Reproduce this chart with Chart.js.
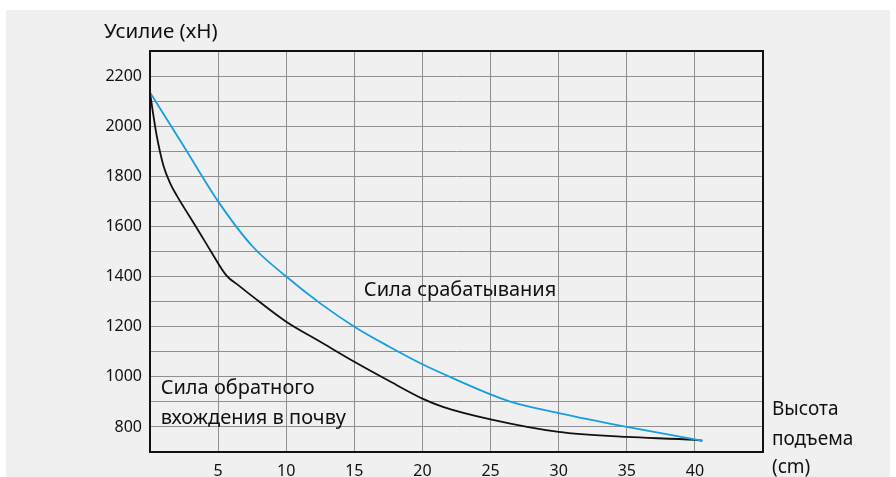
<!DOCTYPE html>
<html>
<head>
<meta charset="utf-8">
<script src="https://cdn.jsdelivr.net/npm/chart.js@4/dist/chart.umd.min.js"></script>
<style>
  html, body { margin: 0; padding: 0; background: #ffffff; }
  canvas { display: block; }
</style>
</head>
<body>
<canvas id="c" width="896" height="477"></canvas>
<script>
// ---- data ----
const yAxisTitle = "Усилие (хН)";
const xAxisTitleLines = ["Высота", "подъема", "(cm)"];
const triggerLabel = "Сила срабатывания";
const returnLabelLines = ["Сила обратного", "вхождения в почву"];

const triggerX = [0, 2.5, 5, 7.5, 10, 12.5, 15, 17.5, 20, 22.5, 25, 26.5, 30, 35, 40, 40.55];
const triggerY = [2135, 1918, 1700, 1522, 1400, 1293, 1200, 1122, 1050, 988, 930, 900, 855, 800, 750, 745];

const returnX = [0, 0.2, 0.5, 1, 1.5, 2, 2.5, 3.5, 4.5, 5.6, 6.5, 7.5, 10, 12.5, 15, 17.5, 20, 21.5, 25, 30, 35, 40, 40.55];
const returnY = [2135, 2060, 1960, 1840, 1770, 1720, 1675, 1588, 1498, 1405, 1365, 1322, 1220, 1140, 1060, 985, 913, 880, 830, 780, 760, 748, 745];

const xMin = 0, xMax = 45, xStep = 5;
const yMin = 700, yMax = 2300, yStep = 100;
const yLabelValues = [800, 1000, 1200, 1400, 1600, 1800, 2000, 2200];
const xLabelValues = [5, 10, 15, 20, 25, 30, 35, 40];

const FONT = "'Noto Sans', sans-serif";

function pts(xs, ys) { return xs.map((x, i) => ({ x: x, y: ys[i] })); }

const decor = {
  id: 'decor',
  beforeDraw(chart) {
    const ctx = chart.ctx;
    ctx.save();
    ctx.fillStyle = '#ffffff';
    ctx.fillRect(0, 0, chart.width, chart.height);
    ctx.fillStyle = '#f0f0f0';
    ctx.fillRect(6, 10, 884, chart.height - 10);
    ctx.restore();
  },
  afterDraw(chart) {
    const ctx = chart.ctx;
    const a = chart.chartArea;
    const xs = chart.scales.x, ys = chart.scales.y;
    ctx.save();
    ctx.strokeStyle = '#111111';
    ctx.lineWidth = 2;
    ctx.strokeRect(a.left, a.top, a.right - a.left, a.bottom - a.top);

    ctx.fillStyle = '#111111';
    ctx.textBaseline = 'middle';
    ctx.textAlign = 'left';
    ctx.font = "20.5px " + FONT;
    ctx.fillText(yAxisTitle, 104, 32);

    ctx.font = "20px " + FONT;
    ctx.fillText(triggerLabel, xs.getPixelForValue(15.7), ys.getPixelForValue(1345));
    ctx.fillText(returnLabelLines[0], xs.getPixelForValue(0.78), ys.getPixelForValue(955));
    ctx.fillText(returnLabelLines[1], xs.getPixelForValue(0.78), ys.getPixelForValue(835));

    ctx.font = "19px " + FONT;
    const rx = a.right + 9;
    const lineYs = [410, 440, 468];
    xAxisTitleLines.forEach((t, i) => ctx.fillText(t, rx, lineYs[i]));
    ctx.restore();
  }
};

new Chart(document.getElementById('c'), {
  type: 'scatter',
  data: {
    datasets: [
      {
        label: triggerLabel,
        data: pts(triggerX, triggerY),
        showLine: true,
        borderColor: '#149fe0',
        borderWidth: 1.8,
        pointRadius: 0,
        cubicInterpolationMode: 'monotone'
      },
      {
        label: returnLabelLines.join(' '),
        data: pts(returnX, returnY),
        showLine: true,
        borderColor: '#111111',
        borderWidth: 1.8,
        pointRadius: 0,
        cubicInterpolationMode: 'monotone'
      }
    ]
  },
  options: {
    responsive: false,
    animation: false,
    layout: { padding: { left: 0, top: 51, right: 133, bottom: 0 } },
    plugins: { legend: { display: false }, tooltip: { enabled: false } },
    scales: {
      x: {
        type: 'linear',
        min: xMin, max: xMax,
        afterFit(s) { s.height = 25; },
        afterBuildTicks(s) {
          const t = [];
          for (let v = xMin; v <= xMax; v += xStep) t.push({ value: v });
          s.ticks = t;
        },
        grid: { color: '#8f8f8f', lineWidth: 1, drawTicks: false },
        border: { display: false },
        ticks: {
          padding: 10,
          color: '#111111',
          font: { family: FONT, size: 16 },
          maxRotation: 0,
          autoSkip: false,
          callback: v => xLabelValues.includes(v) ? String(v) : ''
        }
      },
      y: {
        type: 'linear',
        min: yMin, max: yMax,
        afterFit(s) { s.width = 150; },
        afterBuildTicks(s) {
          const t = [];
          for (let v = yMin; v <= yMax; v += yStep) t.push({ value: v });
          s.ticks = t;
        },
        grid: { color: '#8f8f8f', lineWidth: 1, drawTicks: false },
        border: { display: false },
        ticks: {
          padding: 8,
          color: '#111111',
          font: { family: FONT, size: 16 },
          autoSkip: false,
          callback: v => yLabelValues.includes(v) ? String(v) : ''
        }
      }
    }
  },
  plugins: [decor]
});
</script>
</body>
</html>
